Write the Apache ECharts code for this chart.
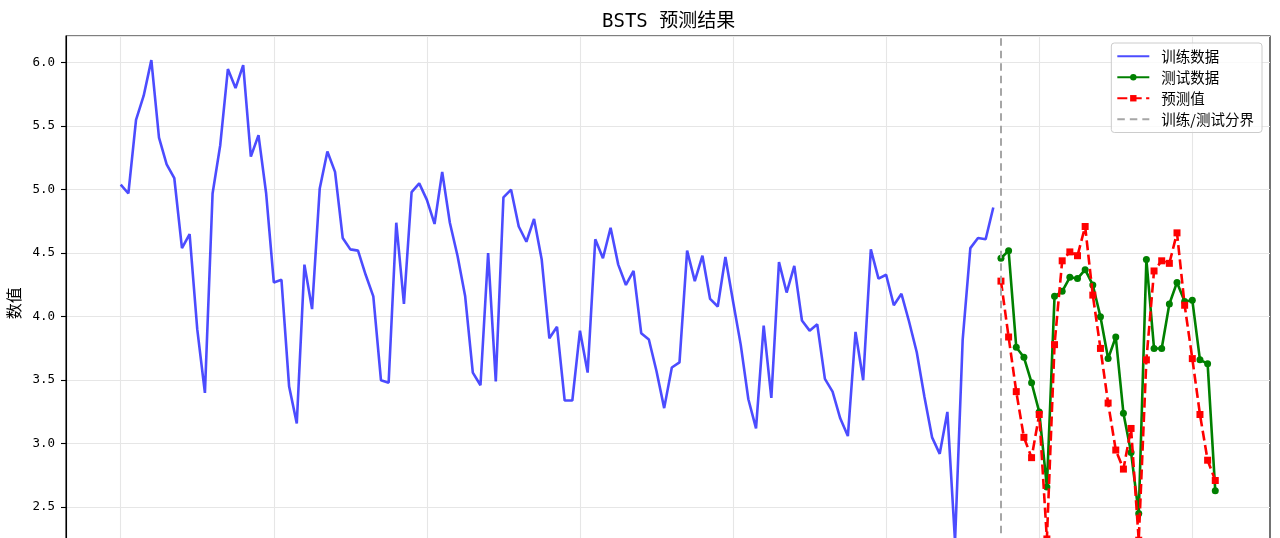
<!DOCTYPE html>
<html>
<head>
<meta charset="utf-8">
<title>BSTS 预测结果</title>
<script src="https://cdn.jsdelivr.net/npm/echarts@6/dist/echarts.min.js"></script>
<style>
  html, body { margin: 0; padding: 0; background: #fff; overflow: hidden; }
  /* the figure is taller than the window: the lower part is cut off, as in the original */
  #chart { width: 1280px; height: 600px; }
</style>
</head>
<body>
<div id="chart"></div>
<script type="text/javascript">
// 训练数据 (index 0..114)
var trainValues = [
  5.04, 4.97, 5.55, 5.74, 6.02, 5.41, 5.20, 5.09, 4.54, 4.65,
  3.90, 3.40, 4.97, 5.35, 5.95, 5.80, 5.98, 5.26, 5.43, 4.97,
  4.27, 4.29, 3.45, 3.16, 4.41, 4.06, 5.01, 5.30, 5.14, 4.62,
  4.53, 4.52, 4.33, 4.16, 3.50, 3.48, 4.74, 4.10, 4.98, 5.05,
  4.92, 4.73, 5.14, 4.74, 4.48, 4.16, 3.56, 3.46, 4.50, 3.49,
  4.94, 5.00, 4.71, 4.59, 4.77, 4.45, 3.83, 3.92, 3.34, 3.34,
  3.89, 3.56, 4.61, 4.46, 4.70, 4.41, 4.25, 4.36, 3.87, 3.82,
  3.57, 3.28, 3.60, 3.64, 4.52, 4.28, 4.48, 4.14, 4.08, 4.47,
  4.12, 3.78, 3.35, 3.12, 3.93, 3.36, 4.43, 4.19, 4.40, 3.97,
  3.89, 3.94, 3.51, 3.41, 3.20, 3.06, 3.88, 3.50, 4.53, 4.30,
  4.33, 4.09, 4.18, 3.96, 3.72, 3.37, 3.05, 2.92, 3.25, 2.23,
  3.82, 4.54, 4.62, 4.61, 4.86
];
// 测试数据 (index 115..143)
var testValues = [
  4.46, 4.52, 3.76, 3.68, 3.48, 3.25, 2.66, 4.16, 4.20, 4.31,
  4.30, 4.37, 4.25, 4.00, 3.67, 3.84, 3.24, 2.93, 2.45, 4.45,
  3.75, 3.75, 4.10, 4.27, 4.12, 4.13, 3.66, 3.63, 2.63
];
// 预测值
var predValues = [
  4.28, 3.84, 3.41, 3.05, 2.89, 3.23, 2.25, 3.78, 4.44, 4.51,
  4.48, 4.71, 4.17, 3.75, 3.32, 2.95, 2.80, 3.12, 2.24, 3.66,
  4.36, 4.44, 4.42, 4.66, 4.09, 3.67, 3.23, 2.87, 2.71
];
var xTicks = [0, 20, 40, 60, 80, 100, 120, 140];
var yMin = 2.0, yMax = 6.21;
var xMin = -7.15, xMax = 150.15;

var splitIndex = trainValues.length;
var trainData = trainValues.map(function (v, i) { return [i, v]; });
var testData = testValues.map(function (v, i) { return [splitIndex + i, v]; });
var predData = predValues.map(function (v, i) { return [splitIndex + i, v]; });

var cjk = 'Noto Sans CJK SC';
var gridColor = '#e6e6e6';
var myChart = echarts.init(document.getElementById('chart'), null, { renderer: 'canvas' });

var option = {
    animation: false,
    backgroundColor: '#ffffff',
    title: {
        text: 'BSTS 预测结果',
        left: 597,
        top: 8,
        textStyle: { fontFamily: 'DejaVu Sans Mono, ' + cjk, fontSize: 19, fontWeight: 'normal', color: '#000' }
    },
    legend: {
        data: [
            { name: '训练数据', itemStyle: { opacity: 0 } },
            { name: '测试数据' },
            { name: '预测值' },
            { name: '训练/测试分界', itemStyle: { opacity: 0 } }
        ],
        orient: 'vertical',
        right: 18,
        top: 43,
        padding: [6, 8, 6, 5],
        itemWidth: 32,
        itemHeight: 8,
        itemGap: 6.5,
        backgroundColor: 'rgba(255,255,255,0.8)',
        borderColor: '#cccccc',
        borderWidth: 1,
        borderRadius: 3,
        textStyle: { fontFamily: cjk, fontSize: 14.5, color: '#000', padding: [0, 0, 0, 7] }
    },
    grid: {
        show: true,
        left: 66,
        right: 10,
        top: 36,
        bottom: 29.3,
        outerBoundsMode: 'none',
        borderColor: '#000',
        borderWidth: 1.1,
        backgroundColor: 'transparent'
    },
    xAxis: {
        type: 'value',
        min: xMin,
        max: xMax,
        axisLine: { show: false },
        axisTick: { show: false },
        axisLabel: { show: false },
        splitLine: { show: false }
    },
    yAxis: {
        type: 'value',
        min: yMin,
        max: yMax,
        interval: 0.5,
        name: '数值',
        nameLocation: 'middle',
        nameGap: 30,
        nameTextStyle: { fontFamily: cjk, fontSize: 16, color: '#000' },
        axisLine: { show: true, onZero: false, lineStyle: { color: '#000', width: 1.1 } },
        axisTick: { show: true, length: 5, lineStyle: { color: '#000', width: 1.1 } },
        axisLabel: {
            showMaxLabel: false,
            margin: 11,
            fontFamily: 'DejaVu Sans Mono',
            fontSize: 12.5,
            color: '#000',
            formatter: function (v) { return v.toFixed(1); }
        },
        splitLine: { show: true, lineStyle: { color: gridColor, width: 1.1 } }
    },
    series: [
        {
            name: 'xgrid',
            type: 'line',
            data: [],
            z: 1,
            silent: true,
            markLine: {
                z: 1,
                silent: true,
                symbol: 'none',
                label: { show: false },
                lineStyle: { color: gridColor, width: 1.1, type: 'solid' },
                data: xTicks.map(function (t) { return { xAxis: t }; })
            }
        },
        {
            name: '训练数据',
            type: 'line',
            data: trainData,
            symbol: 'none',
            z: 3,
            lineStyle: { color: 'rgba(0,0,255,0.7)', width: 2.6 },
            itemStyle: { color: 'rgba(0,0,255,0.7)' }
        },
        {
            name: '测试数据',
            type: 'line',
            data: testData,
            symbol: 'circle',
            symbolSize: 7,
            z: 4,
            lineStyle: { color: '#008000', width: 2.6 },
            itemStyle: { color: '#008000' }
        },
        {
            name: '预测值',
            type: 'line',
            data: predData,
            symbol: 'rect',
            symbolSize: 7,
            z: 5,
            lineStyle: { color: '#ff0000', width: 2.6, type: [10, 4.4] },
            itemStyle: { color: '#ff0000' }
        },
        {
            name: '训练/测试分界',
            type: 'line',
            data: [],
            symbol: 'none',
            z: 6,
            lineStyle: { color: '#a6a6a6', width: 2, type: [7.5, 5] },
            itemStyle: { color: '#a6a6a6' },
            markLine: {
                z: 6,
                silent: true,
                symbol: 'none',
                label: { show: false },
                lineStyle: { color: '#a6a6a6', width: 2, type: [7.5, 5] },
                data: [{ xAxis: splitIndex }]
            }
        }
    ]
};

myChart.setOption(option);
</script>
</body>
</html>
